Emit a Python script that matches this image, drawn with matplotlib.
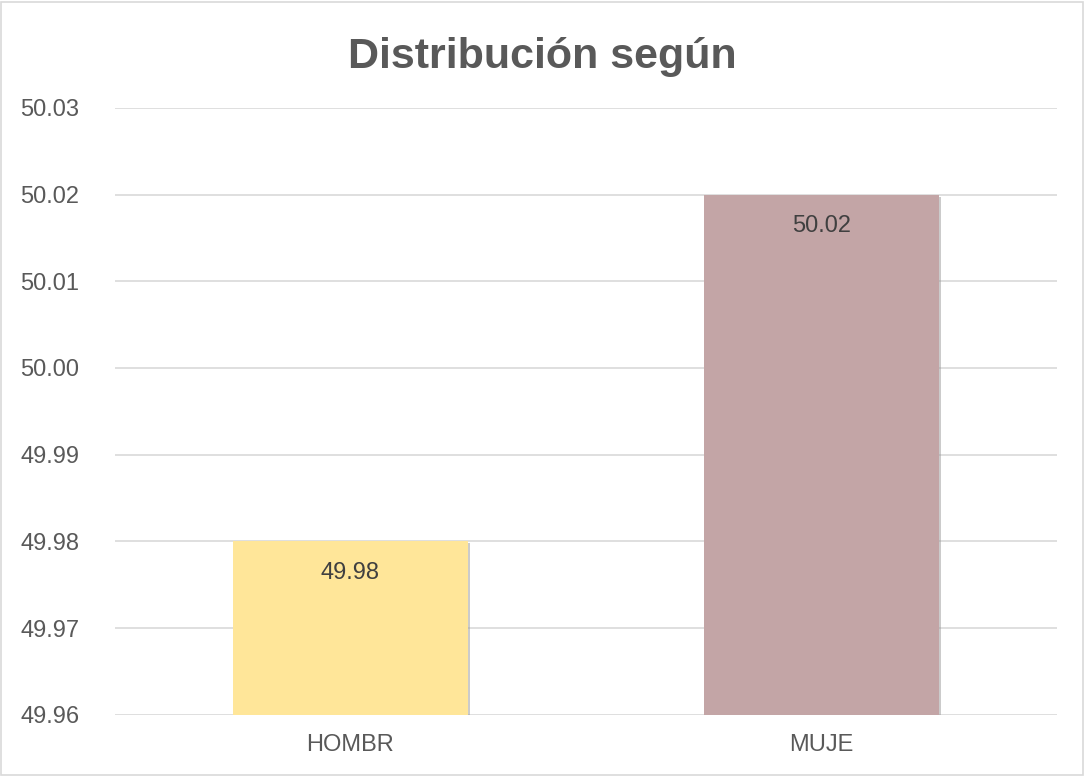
import matplotlib.pyplot as plt
import matplotlib.patheffects as pe
from matplotlib.patches import Rectangle

categories = ['HOMBR', 'MUJE']
values = [49.98, 50.02]
colors = ['#FFE699', '#C3A5A6']
yticks = [49.96, 49.97, 49.98, 49.99, 50.00, 50.01, 50.02, 50.03]

plt.rcParams['font.family'] = ['Liberation Sans', 'DejaVu Sans']
txt = '#595959'

fig = plt.figure(figsize=(10.85, 7.76), dpi=100)
fig.patches.append(Rectangle((0.001, 0.001), 0.997, 0.997, transform=fig.transFigure,
                             fill=False, edgecolor='#D9D9D9', linewidth=1.2))
ax = fig.add_axes([0.106, 0.079, 0.868, 0.782])

x = range(len(categories))
bars = ax.bar(x, [v - yticks[0] for v in values], bottom=yticks[0], width=0.5,
              color=colors, zorder=3)
for b in bars:
    b.set_path_effects([pe.SimplePatchShadow(offset=(1.5, -1.5), shadow_rgbFace='#999999', alpha=0.5),
                        pe.Normal()])
for xi, v in zip(x, values):
    ax.annotate(f'{v:.2f}', (xi, v), xytext=(0, -15), textcoords='offset points',
                ha='center', va='top', fontsize=17, color='#404040', zorder=4)

ax.set_xlim(-0.5, 1.5)
ax.set_ylim(yticks[0], yticks[-1])
ax.set_yticks(yticks)
ax.set_yticklabels([f'{t:.2f}' for t in yticks])
ax.set_xticks(list(x))
ax.set_xticklabels(categories)
ax.grid(axis='y', color='#D9D9D9', linewidth=1.2, zorder=0)
for s in ax.spines.values():
    s.set_visible(False)
ax.tick_params(axis='both', length=0, labelsize=17, labelcolor=txt)
ax.tick_params(axis='x', pad=14)
ax.tick_params(axis='y', pad=68)
for lab in ax.get_yticklabels():
    lab.set_horizontalalignment('left')

fig.text(0.5, 0.926, 'Distribución según', ha='center', va='center',
         fontsize=31, fontweight='bold', color=txt)

fig.savefig('out.png', dpi=100)
